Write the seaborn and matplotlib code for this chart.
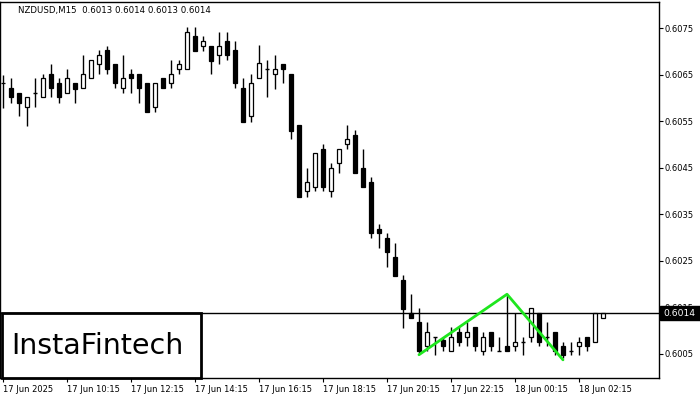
import matplotlib
matplotlib.use("Agg")
import matplotlib.pyplot as plt
import matplotlib.transforms as mtransforms
from matplotlib.patches import Rectangle
import seaborn as sns

# ------------------------------------------------------
# data (NZDUSD M15)
# ------------------------------------------------------
opens = [0.60632, 0.60621, 0.60610, 0.60580, 0.60610, 0.60601, 0.60651, 0.60631,
         0.60610, 0.60631, 0.60621, 0.60642, 0.60673, 0.60703, 0.60673, 0.60621,
         0.60651, 0.60651, 0.60631, 0.60580, 0.60642, 0.60631, 0.60661, 0.60661,
         0.60733, 0.60711, 0.60711, 0.60692, 0.60722, 0.60703, 0.60621, 0.60560,
         0.60642, 0.60661, 0.60651, 0.60673, 0.60651, 0.60542, 0.60400, 0.60409,
         0.60490, 0.60399, 0.60459, 0.60500, 0.60520, 0.60449, 0.60419, 0.60318,
         0.60298, 0.60258, 0.60209, 0.60137, 0.60118, 0.60066, 0.60087, 0.60079,
         0.60057, 0.60097, 0.60087, 0.60107, 0.60057, 0.60097, 0.60057, 0.60066,
         0.60066, 0.60076, 0.60087, 0.60137, 0.60087, 0.60097, 0.60066, 0.60057,
         0.60066, 0.60087, 0.60076, 0.60127]
highs = [0.60649, 0.60642, 0.60610, 0.60601, 0.60642, 0.60651, 0.60673, 0.60642,
         0.60661, 0.60631, 0.60692, 0.60681, 0.60703, 0.60711, 0.60673, 0.60692,
         0.60661, 0.60651, 0.60631, 0.60631, 0.60642, 0.60681, 0.60681, 0.60753,
         0.60753, 0.60733, 0.60711, 0.60741, 0.60741, 0.60722, 0.60642, 0.60651,
         0.60713, 0.60681, 0.60692, 0.60673, 0.60651, 0.60542, 0.60449, 0.60481,
         0.60500, 0.60459, 0.60490, 0.60542, 0.60531, 0.60490, 0.60429, 0.60328,
         0.60309, 0.60288, 0.60220, 0.60179, 0.60148, 0.60118, 0.60087, 0.60087,
         0.60107, 0.60107, 0.60118, 0.60107, 0.60097, 0.60097, 0.60087, 0.60179,
         0.60137, 0.60087, 0.60148, 0.60137, 0.60118, 0.60097, 0.60076, 0.60076,
         0.60087, 0.60087, 0.60137, 0.60137]
lows = [0.60578, 0.60590, 0.60560, 0.60540, 0.60580, 0.60601, 0.60601, 0.60590,
        0.60610, 0.60590, 0.60621, 0.60642, 0.60651, 0.60651, 0.60621, 0.60610,
        0.60610, 0.60590, 0.60570, 0.60570, 0.60621, 0.60621, 0.60651, 0.60661,
        0.60701, 0.60701, 0.60651, 0.60673, 0.60681, 0.60621, 0.60549, 0.60549,
        0.60642, 0.60601, 0.60618, 0.60631, 0.60511, 0.60388, 0.60388, 0.60399,
        0.60399, 0.60388, 0.60439, 0.60490, 0.60439, 0.60409, 0.60298, 0.60278,
        0.60237, 0.60218, 0.60106, 0.60127, 0.60051, 0.60055, 0.60048, 0.60055,
        0.60057, 0.60066, 0.60066, 0.60055, 0.60048, 0.60057, 0.60057, 0.60057,
        0.60055, 0.60048, 0.60076, 0.60066, 0.60066, 0.60048, 0.60041, 0.60048,
        0.60048, 0.60057, 0.60076, 0.60127]
closes = [0.60631, 0.60601, 0.60590, 0.60601, 0.60610, 0.60642, 0.60621, 0.60601,
          0.60642, 0.60619, 0.60651, 0.60681, 0.60692, 0.60661, 0.60631, 0.60642,
          0.60642, 0.60621, 0.60570, 0.60631, 0.60621, 0.60651, 0.60673, 0.60741,
          0.60701, 0.60722, 0.60680, 0.60711, 0.60692, 0.60631, 0.60549, 0.60631,
          0.60674, 0.60661, 0.60662, 0.60662, 0.60529, 0.60388, 0.60419, 0.60481,
          0.60409, 0.60449, 0.60490, 0.60511, 0.60439, 0.60409, 0.60309, 0.60309,
          0.60268, 0.60218, 0.60147, 0.60127, 0.60057, 0.60097, 0.60087, 0.60066,
          0.60087, 0.60076, 0.60097, 0.60066, 0.60087, 0.60066, 0.60057, 0.60057,
          0.60076, 0.60076, 0.60148, 0.60076, 0.60087, 0.60057, 0.60048, 0.60057,
          0.60076, 0.60066, 0.60137, 0.60137]

time_labels = ["17 Jun 2025", "17 Jun 10:15", "17 Jun 12:15", "17 Jun 14:15",
               "17 Jun 16:15", "17 Jun 18:15", "17 Jun 20:15", "17 Jun 22:15",
               "18 Jun 00:15", "18 Jun 02:15"]
price_ticks = [0.6005, 0.6015, 0.6025, 0.6035, 0.6045, 0.6055, 0.6065, 0.6075]

# double top pattern (bar index, price)
pattern_idx = [52, 63, 70]
pattern_price = [0.60048, 0.60178, 0.60037]

header = "NZDUSD,M15  0.6013 0.6014 0.6013 0.6014"

# ------------------------------------------------------
# figure
# ------------------------------------------------------
sns.set_style("white")
plt.rcParams["font.family"] = ["DejaVu Sans"]

fig = plt.figure(figsize=(7, 4), dpi=100)
ax = fig.add_axes([0.0, 1 - 378 / 400, 659 / 700, 376 / 400])

n = len(opens)
xs = list(range(n))

# wicks
ax.vlines(xs, lows, highs, color="black", linewidth=1, zorder=2)

# bodies
for i in xs:
    o, c = opens[i], closes[i]
    if c == o:
        ax.hlines(o, i - 0.3, i + 0.3, color="black", linewidth=1, zorder=3)
        continue
    face = "white" if c > o else "black"
    ax.add_patch(Rectangle((i - 0.3, min(o, c)), 0.6, abs(c - o),
                           facecolor=face, edgecolor="black",
                           linewidth=0.9, zorder=3))

# bid line
last = closes[-1]
ax.axhline(last, color="black", linewidth=1, zorder=4)

# double top outline
sns.lineplot(x=pattern_idx, y=pattern_price, ax=ax, color="#1ee61e",
             linewidth=2, zorder=5)

ax.set_xlim(-0.375, 82)
ax.set_ylim(0.59998, 0.60806)

ax.set_xticks(list(range(0, 8 * len(time_labels), 8)))
ax.set_xticklabels(time_labels, ha="left", fontsize=6.0)
ax.yaxis.tick_right()
ax.set_yticks(price_ticks)
ax.set_yticklabels([f"{p:.4f}" for p in price_ticks], fontsize=6.0)
ax.tick_params(axis="both", which="both", length=3, width=0.8,
               color="black", labelcolor="black", direction="out")
ax.tick_params(axis="x", pad=2, bottom=True)
ax.tick_params(axis="y", pad=1, left=False, right=True)

for side in ["top", "right", "bottom", "left"]:
    ax.spines[side].set_visible(True)
    ax.spines[side].set_color("black")
    ax.spines[side].set_linewidth(1)

# header
ax.text(18 / 659, 1 - 8 / 376, header, transform=ax.transAxes,
        fontsize=6.2, va="center", ha="left", color="black")

# current price tag
trans = mtransforms.blended_transform_factory(ax.transAxes, ax.transData)
ax.add_patch(Rectangle((1.0015, last - 0.00015), 0.062, 0.0003,
                       transform=trans, facecolor="black", edgecolor="black",
                       clip_on=False, zorder=9))
ax.text(1.006, last, f"{last:.4f}", transform=trans, fontsize=6.6,
        color="white", va="center", ha="left", clip_on=False, zorder=10)

# logo box
fig.patches.append(Rectangle((2 / 700, 1 - 378 / 400), 199 / 700, 65 / 400,
                             transform=fig.transFigure, facecolor="white",
                             edgecolor="black", linewidth=2, zorder=10))
fig.text(97 / 700, 1 - 346 / 400, "InstaFintech", fontsize=20.5,
         ha="center", va="center", color="black", zorder=11)

fig.savefig("out.png", dpi=100)
